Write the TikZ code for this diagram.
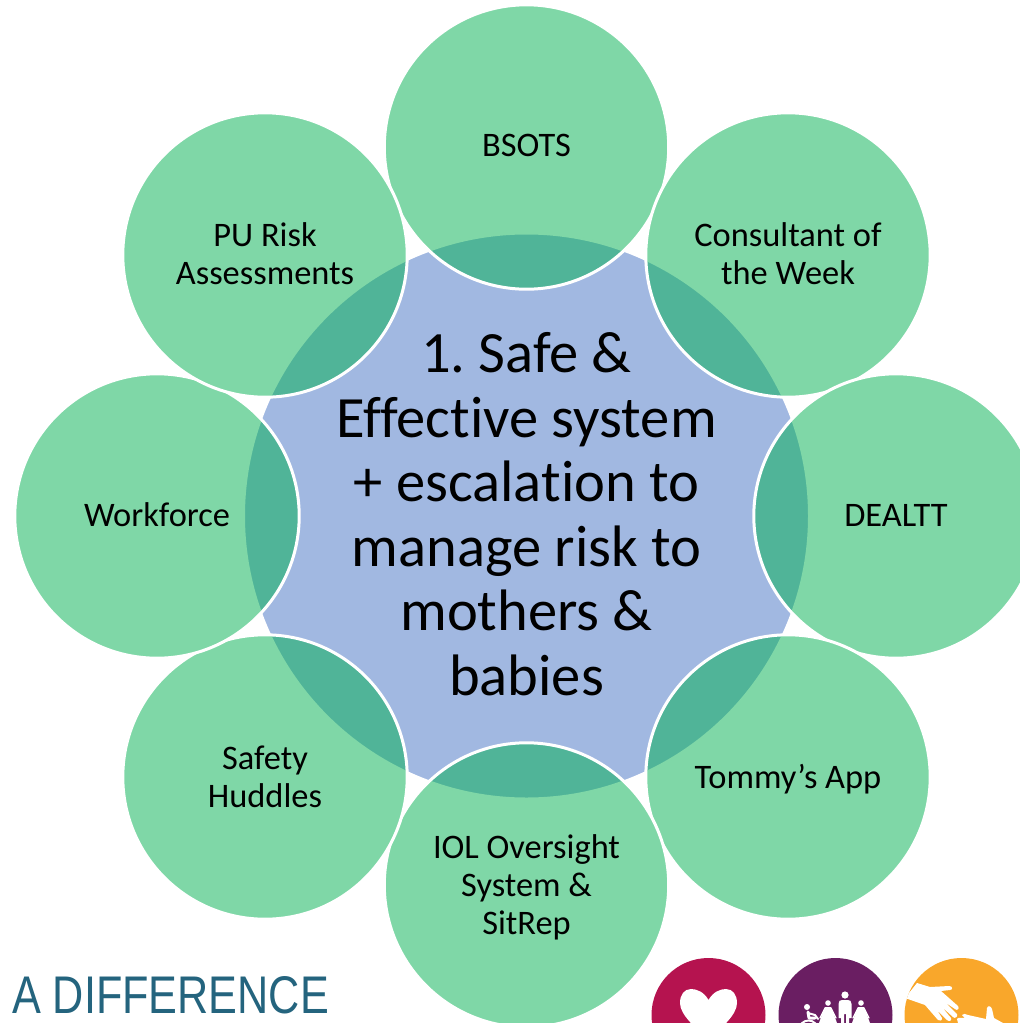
\documentclass[tikz,border=0pt]{standalone}
\usepackage{fontspec}
\setmainfont[Ligatures=NoCommon]{Carlito}
\newfontfamily\logofont{Liberation Sans}
\definecolor{ringgreen}{HTML}{00B050}
\definecolor{hubblue}{HTML}{4472C4}
\definecolor{logoteal}{HTML}{24647E}
\definecolor{logored}{HTML}{B5134F}
\definecolor{logopurple}{HTML}{6A1E62}
\definecolor{logoorange}{HTML}{F9A72B}
\tikzset{
  hub/.style={circle,minimum size=566pt,inner sep=0pt,fill=hubblue,fill opacity=.5,draw=white,line width=3pt},
  petal/.style={circle,minimum size=284.4pt,inner sep=0pt,fill=ringgreen,fill opacity=.5,draw=white,line width=3pt},
  lab/.style={align=center,font=\fontsize{34.4}{38}\selectfont,text=black},
  hublab/.style={align=center,font=\fontsize{58.5}{64.5}\selectfont,text=black},
  logodisc/.style={fill=#1},
  icon/.style={fill=white,draw=none},
  limb/.style={draw=white,line cap=round,line join=round,line width=#1}
}
\begin{document}
\frenchspacing
\begin{tikzpicture}[x=1pt,y=-1pt]
\useasboundingbox (0,0) rectangle (1020,1023);
\clip (0,0) rectangle (1020,1023);
\node[hub] (c) at (526.5,516) {};
\node[petal] (p1) at (526.5,147) {};
\node[petal] (p2) at (788,255) {};
\node[petal] (p3) at (896,516) {};
\node[petal] (p4) at (788,777) {};
\node[petal] (p5) at (526.5,885) {};
\node[petal] (p6) at (265,777) {};
\node[petal] (p7) at (157,516) {};
\node[petal] (p8) at (265,255) {};
\node[hublab] at (526.5,514) {1. Safe \&\\Effective system\\+ escalation to\\manage risk to\\mothers \&\\babies};
\node[lab] at (526.5,145) {BSOTS};
\node[lab] at (788,254) {Consultant of\\the Week};
\node[lab] at (896,515) {DEALTT};
\node[lab] at (788,779) {Tommy’s App};
\node[lab] at (526.5,887) {IOL Oversight\\System \&\\SitRep};
\node[lab] at (265,777) {Safety\\Huddles};
\node[lab] at (157,515) {Workforce};
\node[lab] at (265,254) {PU Risk\\Assessments};
\node[text=logoteal,font=\logofont\fontsize{53}{53}\selectfont,xscale=.815,inner sep=0pt] at (170.5,995) {A DIFFERENCE};
% logo discs
\fill[logodisc=logored] (708.5,1015) circle (57);
\fill[logodisc=logopurple] (835.5,1015) circle (57);
\fill[logodisc=logoorange] (961.5,1015) circle (57);
% heart
\fill[icon] (708.5,1000) .. controls (704,992) and (697,989) .. (691,989)
  .. controls (684,989) and (680,995) .. (680,1003)
  .. controls (680,1015) and (696,1028) .. (708.5,1040)
  .. controls (721,1028) and (737,1015) .. (737,1003)
  .. controls (737,995) and (733,989) .. (726,989)
  .. controls (720,989) and (713,992) .. (708.5,1000) -- cycle;
% people
\fill[icon] (845,995) circle (3.6);
\fill[icon] (838.5,1004) .. controls (838.5,1001) and (840,1000) .. (842,1000) -- (848,1000)
  .. controls (850,1000) and (851.5,1001) .. (851.5,1004) -- (851.5,1018) -- (849,1018) -- (849,1023) -- (846,1023) -- (846,1014) -- (844,1014) -- (844,1023) -- (841,1023) -- (841,1018) -- (838.5,1018) -- cycle;
\fill[icon] (828,1003) circle (2.8);
\fill[icon] (825,1007) -- (831,1007) -- (833,1012) -- (837,1023) -- (819,1023) -- (823,1012) -- cycle;
\draw[limb=1.2pt] (825,1008) -- (820,1018);
\draw[limb=1.2pt] (831,1008) -- (836,1018);
\fill[icon] (861,1003) circle (2.8);
\fill[icon] (858,1007) -- (864,1007) -- (866,1012) -- (870,1023) -- (852,1023) -- (856,1012) -- cycle;
\draw[limb=1.2pt] (858,1008) -- (853,1018);
\draw[limb=1.2pt] (864,1008) -- (869,1018);
\fill[icon] (807,1007) circle (3);
\draw[limb=3pt] (808,1012) -- (809,1018) -- (815,1018);
\draw[limb=2pt] (808,1013) -- (815,1015) -- (818,1019);
\draw[white,line width=2pt] (808.5,1030) circle (9.5);
% hands
\begin{scope}
\clip (961.5,1015) circle (57);
\fill[icon] (905,998) -- (917,983) -- (930,987) -- (949,986) .. controls (953,986) and (953,990) .. (950,990) -- (941,991)
  -- (958,1006) .. controls (960,1009) and (957,1011) .. (955,1009) -- (946,1003)
  -- (957,1014) .. controls (958,1017) and (955,1019) .. (953,1017) -- (942,1007)
  -- (951,1018) .. controls (952,1021) and (949,1022) .. (947,1020) -- (937,1010)
  -- (942,1018) .. controls (942,1021) and (940,1021) .. (938,1020) -- (925,1005) -- cycle;
\fill[icon] (962,1015) .. controls (963,1013) and (966,1014) .. (968,1015) -- (986,1019)
  -- (987,1008) .. controls (988,1005) and (991,1006) .. (992,1009) -- (994,1018) -- (1003,1023)
  -- (958,1023) -- (957,1019) .. controls (958,1017) and (962,1018) .. (965,1018) -- cycle;
\end{scope}
\end{tikzpicture}
\end{document}
